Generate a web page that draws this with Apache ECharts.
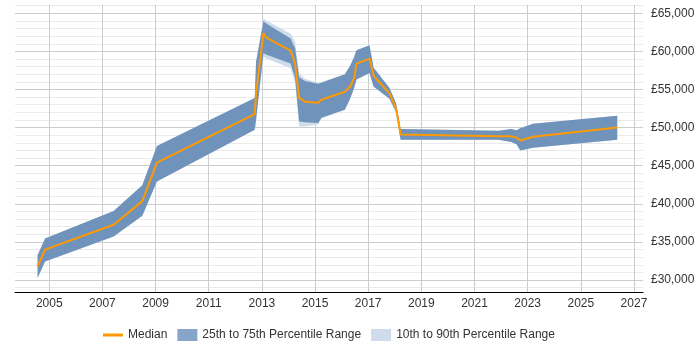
<!DOCTYPE html>
<html>
<head>
<meta charset="utf-8">
<script src="https://cdn.jsdelivr.net/npm/echarts@6/dist/echarts.min.js"></script>
<style>
  html, body { margin: 0; padding: 0; background: #fff; }
  #salaryChart { width: 700px; height: 350px; }
</style>
</head>
<body>
<div id="salaryChart"></div>
<script>
// x positions (fractional years) shared by every series
const years = [2004.56, 2004.84, 2007.42, 2008.5, 2009.05, 2012.73, 2012.78, 2013.06, 2013.15, 2014.08,
  2014.25, 2014.4, 2014.62, 2015.12, 2015.24, 2016.12, 2016.32, 2016.47, 2016.56, 2017.05,
  2017.2, 2017.8, 2018.05, 2018.22, 2021.9, 2022.38, 2022.58, 2022.72, 2023.2, 2026.37]

const median = [31780, 33980, 37250, 40350, 45400, 51780, 54500, 62400, 61850, 60100,
  58400, 53900, 53400, 53250, 53650, 54700, 55400, 56500, 58400, 59050,
  56800, 54500, 52500, 49100, 48850, 48850, 48700, 48300, 48800, 50000]

const p25 = [30260, 32440, 35720, 38440, 42940, 49720, 51000, 59800, 59600, 58400,
  56500, 50800, 50700, 50600, 51300, 52340, 53800, 55200, 56300, 57150,
  55400, 53800, 52000, 48400, 48400, 48100, 47800, 47000, 47350, 48400]

const p75 = [33250, 35450, 39050, 42420, 47600, 53880, 58600, 64000, 63700, 61700,
  60400, 56600, 56100, 55750, 55900, 57000, 58100, 59250, 60150, 60800,
  57900, 55200, 53200, 49800, 49600, 49800, 49650, 49900, 50500, 51550]

const p10 = [30260, 32440, 35720, 38440, 42940, 49720, 51000, 59300, 59100, 57800,
  55800, 50150, 50150, 50400, 51200, 52340, 53800, 55200, 56300, 57150,
  55400, 53800, 52000, 48400, 48400, 48100, 47800, 47000, 47350, 48400]

const p90 = [33250, 35450, 39050, 42420, 47600, 53880, 58600, 64300, 64100, 62300,
  61300, 57100, 56400, 55900, 56000, 57000, 58100, 59250, 60150, 60800,
  57900, 55200, 53200, 49800, 49600, 49800, 49650, 49900, 50500, 51550]

const yearTicks = [2005, 2007, 2009, 2011, 2013, 2015, 2017, 2019, 2021, 2023, 2025, 2027]
const salaryTicks = [30000, 35000, 40000, 45000, 50000, 55000, 60000, 65000]
const minorTicks = [29000, 31000, 32000, 33000, 34000, 36000, 37000, 38000, 39000, 41000, 42000, 43000,
  44000, 46000, 47000, 48000, 49000, 51000, 52000, 53000, 54000, 56000, 57000, 58000, 59000,
  61000, 62000, 63000, 64000, 66000]

const money = (v) => '£' + String(v).replace(/\B(?=(\d{3})+(?!\d))/g, ',')

const yMin = 28427
const yMax = 66088
const font = "'Liberation Sans', Arial, sans-serif"

// band between two percentile lines, drawn as one polygon through the axes
function bandSeries(name, lo, hi, color) {
  return {
    name: name,
    type: 'custom',
    silent: true,
    clip: true,
    itemStyle: { color: color },
    renderItem: function (params, api) {
      const top = years.map((x, i) => api.coord([x, hi[i]]))
      const bottom = years.map((x, i) => api.coord([x, lo[i]])).reverse()
      return {
        type: 'polygon',
        shape: { points: top.concat(bottom) },
        style: { fill: color }
      }
    },
    data: [[years[0], lo[0]]]
  }
}

let option = {
  animation: false,
  grid: { left: 15, right: 57, top: 5, bottom: 58 },
  legend: {
    left: 98,
    top: 324,
    itemWidth: 20,
    itemHeight: 12,
    itemGap: 10,
    textStyle: { fontFamily: font, fontSize: 12, color: '#333' },
    data: [
      { name: 'Median', icon: 'path://M0,0 M20,12 M0,4.5 L20,4.5 L20,7.5 L0,7.5 Z', itemStyle: { color: '#ff9900' } },
      { name: '25th to 75th Percentile Range', icon: 'rect', itemStyle: { color: '#87a5c8' } },
      { name: '10th to 90th Percentile Range', icon: 'rect', itemStyle: { color: '#cfdcec' } }
    ]
  },
  xAxis: {
    type: 'value',
    min: 2003.71,
    max: 2027.34,
    axisLine: { show: true, lineStyle: { color: '#000', width: 1 } },
    axisTick: { show: false, customValues: yearTicks },
    axisLabel: {
      customValues: yearTicks,
      formatter: (v) => String(v),
      margin: 6,
      fontFamily: font,
      fontSize: 12,
      color: '#333'
    },
    splitLine: { show: true, lineStyle: { color: '#cccccc' } }
  },
  yAxis: [
    {
      type: 'value',
      position: 'right',
      min: yMin,
      max: yMax,
      axisLine: { show: false },
      axisTick: { show: false, customValues: salaryTicks },
      axisLabel: {
        customValues: salaryTicks,
        formatter: money,
        margin: 8,
        fontFamily: font,
        fontSize: 12,
        color: '#333'
      },
      splitLine: { show: true, lineStyle: { color: '#cccccc' } }
    },
    {
      type: 'value',
      position: 'right',
      min: yMin,
      max: yMax,
      axisLine: { show: false },
      axisTick: { show: false, customValues: minorTicks },
      axisLabel: { show: false },
      splitLine: { show: true, lineStyle: { color: '#eaeaea' } }
    }
  ],
  series: [
    bandSeries('10th to 90th Percentile Range', p10, p90, '#cfdcec'),
    bandSeries('25th to 75th Percentile Range', p25, p75, '#7093bb'),
    {
      name: 'Median',
      type: 'line',
      symbol: 'none',
      itemStyle: { color: '#ff9900' },
      lineStyle: { color: '#ff9900', width: 2 },
      data: years.map((x, i) => [x, median[i]]),
      z: 5
    }
  ]
}

let myChart = echarts.init(document.getElementById('salaryChart'))
myChart.setOption(option, true)
</script>
</body>
</html>
